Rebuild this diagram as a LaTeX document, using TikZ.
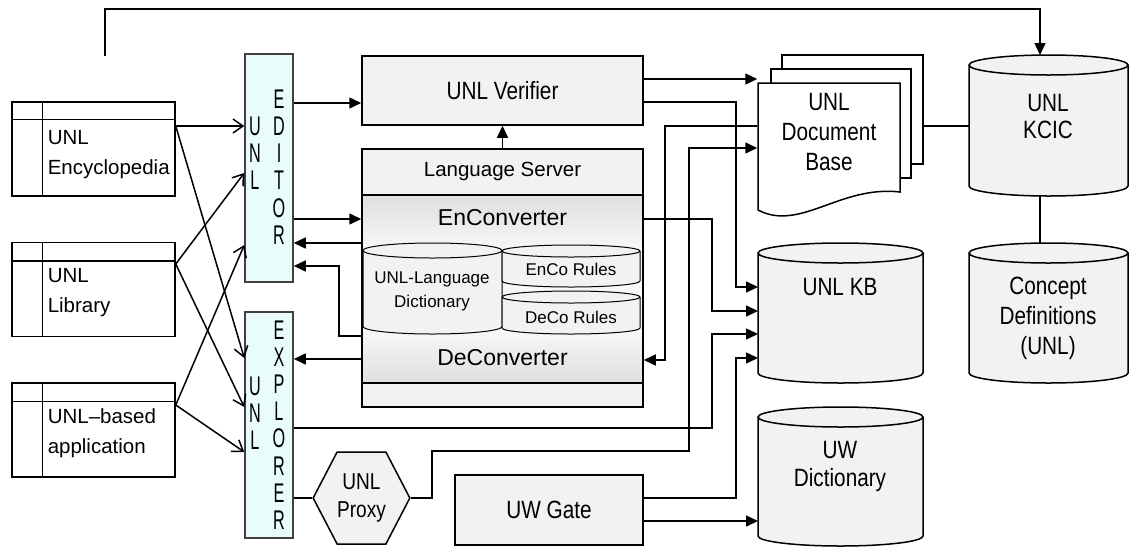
\documentclass[tikz,border=0pt]{standalone}
\usepackage{fontspec}
\setmainfont{Liberation Sans}
\newfontfamily\narrowsans[FakeStretch=0.83]{Liberation Sans}
\newfontfamily\slimsans[FakeStretch=0.6]{Liberation Sans}
\usetikzlibrary{arrows.meta,shapes.symbols,positioning}

\definecolor{boxgray}{HTML}{F2F2F2}
\definecolor{edcyan}{HTML}{E8FCFC}
\newcommand\fmain{\fontsize{20.5}{30}\selectfont}
\newcommand\fbig{\fontsize{23}{27}\selectfont}
\newcommand\fsmall{\fontsize{17}{24}\selectfont}
\newcommand\fnarrow{\narrowsans\fontsize{25}{30}\selectfont}
\newcommand\fletter{\slimsans\fontsize{27}{27.2}\selectfont}
% cylinder round a named node: [options]{node}{x radius}{y radius}
\newcommand\dbcyl[4][]{%
  \draw[fill=boxgray,#1] ([yshift=-#4]#2.north west) -- ([yshift=#4]#2.south west)
    arc[start angle=180, end angle=360, x radius=#3, y radius=#4]
    -- ([yshift=-#4]#2.north east)
    arc[start angle=0, end angle=180, x radius=#3, y radius=#4] -- cycle;
  \draw[#1] ([yshift=-#4]#2.north east)
    arc[start angle=0, end angle=-180, x radius=#3, y radius=#4];}

\tikzset{
  tri/.style={-{Triangle[length=12pt,width=11pt]}},
  barb/.style={-{Straight Barb[length=10pt,width=14pt]}},
  box/.style={draw, fill=boxgray, inner sep=0pt, font=\fnarrow},
  tbl/.style={draw, fill=white, minimum width=163pt, minimum height=94pt, inner sep=0pt},
  side/.style={draw=black!75, fill=edcyan, minimum width=48pt, inner sep=0pt},
  letters/.style={align=center, font=\fletter, inner sep=0pt},
  store/.style={inner sep=0pt, outer sep=0pt},
  storetxt/.style={align=center, font=\fnarrow},
  page/.style={draw, fill=white, inner sep=0pt},
}

\begin{document}
\begin{tikzpicture}[x=1pt,y=-1pt,line width=1.5pt,font=\fmain]
\useasboundingbox (0,0) rectangle (1130,547);

% sources on the left
\node[tbl] (enc) at (93.5,149) {};
\node[tbl] (lib) at (93.5,289.5) {};
\node[tbl] (app) at (93.5,430) {};
\draw ([yshift=-18pt]enc.north west) -- ([yshift=-18pt]enc.north east);
\draw ([xshift=31pt]enc.north west) -- ([xshift=31pt]enc.south west);
\draw ([yshift=-19pt]lib.north west) -- ([yshift=-19pt]lib.north east);
\draw ([xshift=31pt]lib.north west) -- ([xshift=31pt]lib.south west);
\draw ([yshift=-19pt]app.north west) -- ([yshift=-19pt]app.north east);
\draw ([xshift=31pt]app.north west) -- ([xshift=31pt]app.south west);
\node[anchor=west, align=left, inner sep=0pt] (enctxt) at (47,155) {UNL\\Encyclopedia};
\node[anchor=west, align=left, inner sep=0pt] (libtxt) at (47,293) {UNL\\Library};
\node[anchor=west, align=left, inner sep=0pt] (apptxt) at (47,433) {UNL--based\\application};

% editor and explorer
\node[side, minimum height=228pt] (edit) at (269,168) {};
\node[side, minimum height=226pt] (expl) at (269,425) {};
\node[letters] (editu) at (255,153) {U\\N\\L};
\node[letters] (edite) at (279,167) {E\\D\\I\\T\\O\\R};
\node[letters] (explu) at (255,413) {U\\N\\L};
\node[letters] (exple) at (279,425) {E\\X\\P\\L\\O\\R\\E\\R};

% verifier and language server
\node[box, minimum width=281pt, minimum height=69pt] (ver) at (502.5,90.5) {UNL Verifier};
\fill[boxgray] (362,149) rectangle (643,407);
\shade[top color=gray!25, bottom color=gray!6] (362,195) rectangle (643,250);
\fill[gray!6] (362,250) rectangle (643,330);
\shade[top color=gray!6, bottom color=gray!25] (362,330) rectangle (643,383);
\node[draw, minimum width=281pt, minimum height=258pt, inner sep=0pt] (ls) at (502.5,278) {};
\draw (ls.west |- 0,195) -- (ls.east |- 0,195);
\draw (ls.west |- 0,383) -- (ls.east |- 0,383);
\node (lstitle) at (502.5,171) {Language Server};
\node[font=\fbig] (enconv) at (502.5,218) {EnConverter};
\node[font=\fbig] (deconv) at (502.5,358) {DeConverter};
\node[store, minimum width=139pt, minimum height=91pt] (dict) at (432.5,288.5) {};
\node[store, minimum width=138pt, minimum height=42pt] (enco) at (571,266) {};
\node[store, minimum width=138pt, minimum height=43pt] (deco) at (571,312.5) {};
\dbcyl[line width=1pt]{dict}{69.5pt}{7.5pt}
\dbcyl[line width=1pt]{enco}{69pt}{6pt}
\dbcyl[line width=1pt]{deco}{69pt}{6pt}
\node[font=\fsmall, align=center] (dicttxt) at (432,291) {UNL-Language\\Dictionary};
\node[font=\fsmall] (encotxt) at (571,269) {EnCo Rules};
\node[font=\fsmall] (decotxt) at (571,317) {DeCo Rules};

% proxy and gate
\node[signal, signal to=east and west, signal pointer angle=125, draw, fill=boxgray,
  minimum width=93pt, minimum height=92pt, inner sep=0pt, align=center,
  font=\narrowsans\fontsize{23}{28}\selectfont] (proxy) at (361.5,498) {UNL\\Proxy};
\node[box, minimum width=188pt, minimum height=70pt] (gate) at (549,510) {UW Gate};

% document base
\node[page, minimum width=141pt, minimum height=109pt] (pg3) at (852.5,109.5) {};
\node[page, minimum width=140pt, minimum height=109pt] (pg2) at (841,123.5) {};
\draw[fill=white] (758,83) -- (900,83) -- (900,192) .. controls (840,185) and (800,232) .. (758,210) -- cycle;
\node[storetxt, minimum width=142pt, inner sep=0pt] (docb) at (829,132) {UNL\\Document\\Base};

% data stores
\node[store, minimum width=165pt, minimum height=140pt] (kb) at (840.5,313) {};
\node[store, minimum width=165pt, minimum height=139pt] (uwd) at (840.5,476.5) {};
\node[store, minimum width=159pt, minimum height=141pt] (kcic) at (1048.5,125.5) {};
\node[store, minimum width=159pt, minimum height=140pt] (cdef) at (1048.5,313) {};
\dbcyl{kb}{82.5pt}{10pt}
\dbcyl{uwd}{82.5pt}{10pt}
\dbcyl{kcic}{79.5pt}{10pt}
\dbcyl{cdef}{79.5pt}{10pt}
\node[storetxt] (kbtxt) at (840,287) {UNL KB};
\node[storetxt, font=\narrowsans\fontsize{25}{28}\selectfont] (uwdtxt) at (840,466) {UW\\Dictionary};
\node[storetxt, font=\narrowsans\fontsize{25}{27}\selectfont] (kcictxt) at (1048,116.5) {UNL\\KCIC};
\node[storetxt] (cdeftxt) at (1048,318) {Concept\\Definitions\\(UNL)};

% inputs to editor / explorer
\draw[barb] (enc.east |- 0,126) -- (edit.west |- 0,126);
\draw[barb] (enc.east |- 0,126) -- (expl.west |- 0,358);
\draw[barb] (lib.east |- 0,264) -- (edit.west |- 0,173);
\draw[barb] (lib.east |- 0,264) -- (expl.west |- 0,407);
\draw[barb] (app.east |- 0,405) -- (edit.west |- 0,245);
\draw[barb] (app.east |- 0,405) -- (expl.west |- 0,452);

% editor / explorer with the server
\draw[tri] (edit.east |- 0,103) -- (ver.west |- 0,103);
\draw[tri] (edit.east |- 0,219) -- (ls.west |- 0,219);
\draw[tri] (ls.west |- 0,243) -- (edit.east |- 0,243);
\draw[tri] (ls.west |- 0,336) -| (339,266) -- (edit.east |- 0,266);
\draw[tri] (ls.west |- 0,359) -- (expl.east |- 0,359);
\draw[tri] (ls.north) -- (ver.south);
\draw (expl.east |- 0,498) -- (proxy.west);

% to the stores
\draw[tri] (ver.east |- 0,79) -- (docb.west |- 0,79);
\draw[tri] (ver.east |- 0,102) -| (736,287) -- (kb.west |- 0,287);
\draw[tri] (docb.west |- 0,126) -| (665,360) -- (ls.east |- 0,360);
\draw[tri] (proxy.east) -- (432,498) |- (689,451) |- (docb.west |- 0,148);
\draw[tri] (ls.east |- 0,219) -| (712,311) -- (kb.west |- 0,311);
\draw[tri] (expl.east |- 0,428) -| (712,334) -- (kb.west |- 0,334);
\draw[tri] (gate.east |- 0,498) -| (736,358) -- (kb.west |- 0,358);
\draw[tri] (gate.east |- 0,521) -- (uwd.west |- 0,521);
\draw (pg3.east |- 0,126) -- (kcic.west |- 0,126);
\draw (kcic.south -| 1040,0) -- (cdef.north -| 1040,0);
\coordinate (topstart) at (105,56);
\draw[tri] (topstart) |- (1040,9) -- (kcic.north -| 1040,0);
\end{tikzpicture}
\end{document}
